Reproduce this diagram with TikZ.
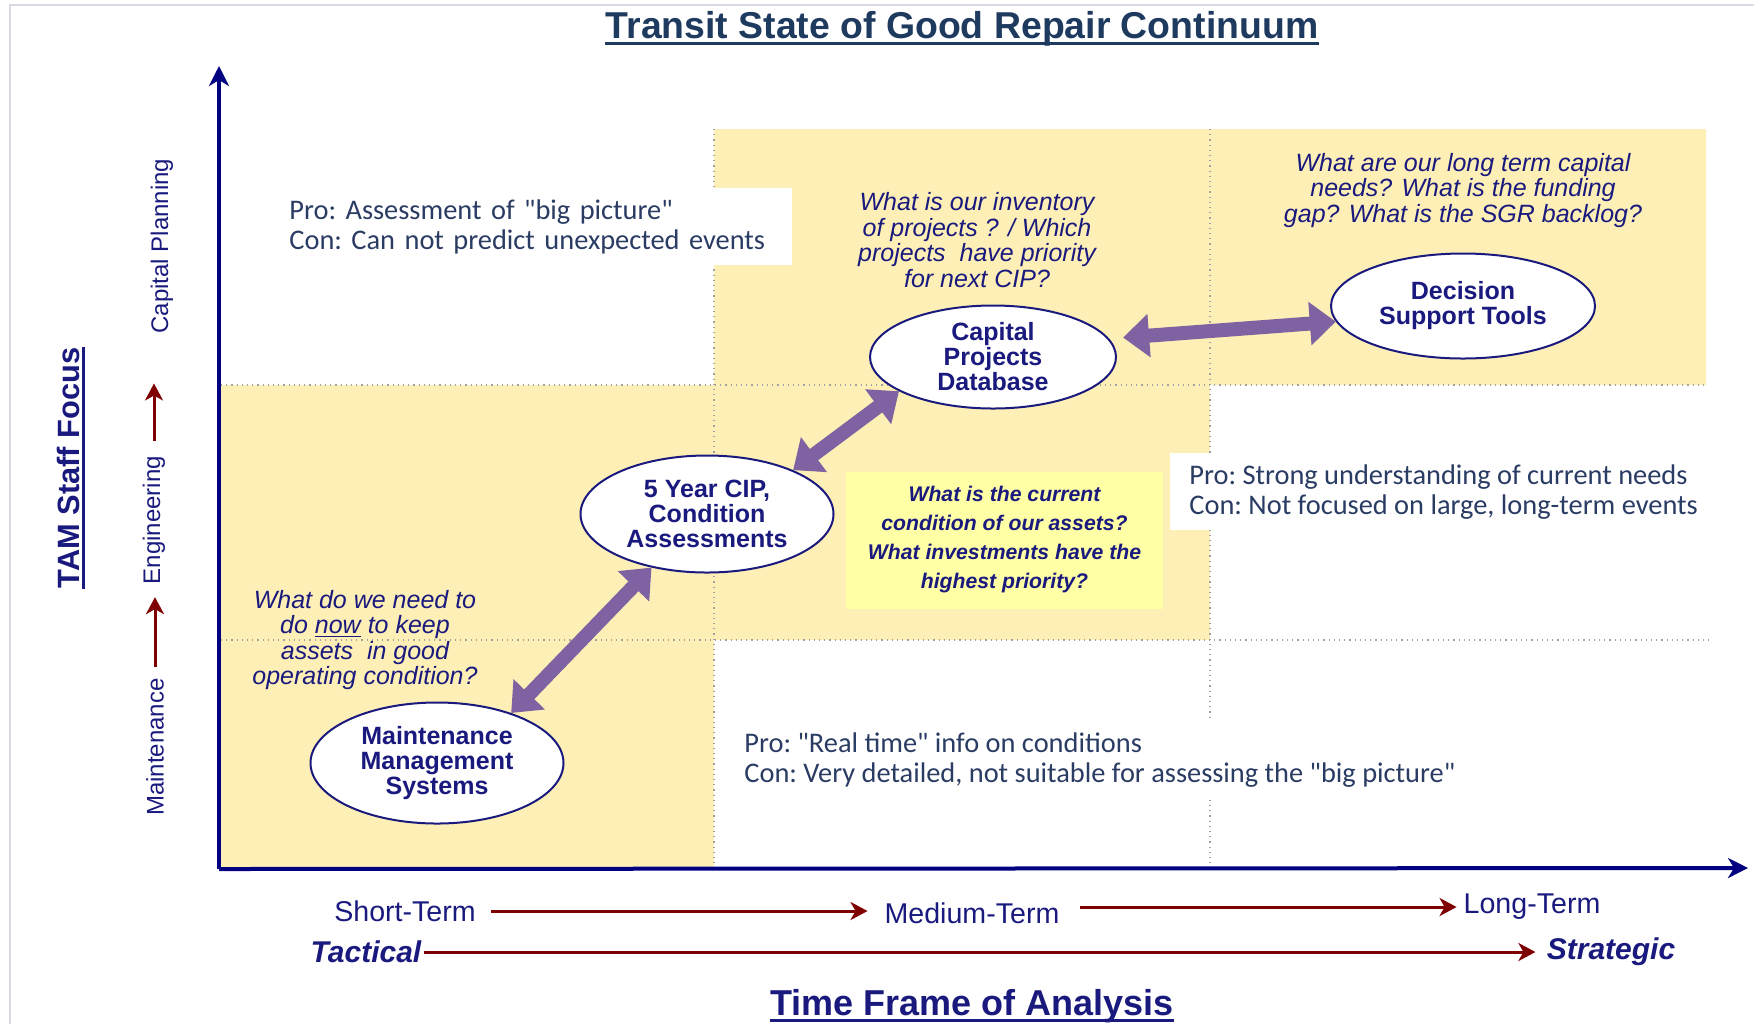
\documentclass[tikz,border=0pt]{standalone}
\usepackage{fontspec}
\setmainfont{Liberation Sans}
\newfontfamily\calibri{Carlito}
\usetikzlibrary{positioning,shapes.geometric,arrows.meta}
\definecolor{axisnavy}{HTML}{000080}
\definecolor{labelnavy}{HTML}{1A1A7E}
\definecolor{titleblue}{HTML}{1F3A5F}
\definecolor{proconblue}{HTML}{2A3C63}
\definecolor{paleyellow}{HTML}{FDEFB6}
\definecolor{brightyellow}{HTML}{FFFFA6}
\definecolor{linkpurple}{HTML}{7E62A2}
\definecolor{flowred}{HTML}{7F0000}
\definecolor{cellgray}{HTML}{A0A0A0}
\definecolor{framelav}{HTML}{D9D9E6}
\tikzset{
    axisline/.style={draw=axisnavy, line width=2pt, -{Stealth[length=10pt,width=10pt,inset=3pt]}},
    flow/.style={draw=flowred, line width=1.5pt, -{Stealth[length=8.5pt,width=9pt,inset=2.5pt]}}
}

\begin{document}
\begin{tikzpicture}[x=0.5pt, y=-0.5pt,
    bubble/.style={ellipse, draw=labelnavy, line width=1pt, fill=white, inner sep=0pt, align=center, text=labelnavy, font=\bfseries\fontsize{12.5}{12.5}\selectfont},
    question/.style={align=center, text=labelnavy, font=\itshape\fontsize{12.5}{12.8}\selectfont},
    procon/.style={anchor=north west, fill=white, align=left, text=proconblue, inner xsep=9.5pt, inner ysep=5.5pt, font=\calibri\fontsize{14.2}{15}\selectfont\frenchspacing},
    focus/.style={rotate=90, text=labelnavy, font=\fontsize{12}{14}\selectfont},
    term/.style={text=labelnavy, font=\fontsize{14.3}{16}\selectfont},
    heading/.style={anchor=base, inner sep=0pt, text=labelnavy, font=\bfseries\fontsize{18}{20}\selectfont},
    link/.style={draw=linkpurple, line width=7pt, {Triangle[length=13pt,width=21pt]}-{Triangle[length=13pt,width=21pt]}},
    cellline/.style={draw=cellgray, line width=0.6pt, dotted}]

\useasboundingbox (0,0) rectangle (1754,1024);
\draw [framelav, line width=1pt] (1754,5) -- (10,5) -- (10,1024);

% Yellow zones and grid
\fill [paleyellow] (221,385) rectangle (714,868);
\fill [paleyellow] (714,129) rectangle (1210,640);
\fill [paleyellow] (1210,129) rectangle (1706,385);
\draw [cellline] (714,129) -- (714,866);
\draw [cellline] (1210,129) -- (1210,866);
\draw [cellline] (221,385) -- (1706,385);
\draw [cellline] (221,640) -- (1710,640);

\node [heading, text=titleblue, font=\bfseries\fontsize{18.7}{20}\selectfont] (title) at (962,38) {Transit State of Good Repair Continuum};
\draw [titleblue, line width=1.5pt] ([yshift=-2.5pt]title.base west) -- ([yshift=-2.5pt]title.base east);

% Axes
\coordinate (origin) at (219,869);
\coordinate (ytop) at (219,66);
\coordinate (xend) at (1748,868);
\draw [axisline] (origin) -- (ytop);
\draw [axisline] (origin) -- (xend);

% Staff focus
\node [heading, rotate=90, font=\bfseries\fontsize{15.4}{17}\selectfont] (staff) at (79,468) {TAM Staff Focus};
\draw [labelnavy, line width=1.5pt] ([xshift=2pt]staff.base west) -- ([xshift=2pt]staff.base east);
\node [focus] (maint) at (155,747) {Maintenance};
\node [focus] (eng) at (154,520) {Engineering};
\node [focus] (plan) at (162,246) {Capital Planning};
\draw [flow, shorten <=2pt, shorten >=3pt] (maint.east) -- (maint.east |- eng.west);
\draw [flow, shorten <=4pt, shorten >=21.5pt] (eng.east) -- (eng.east |- plan.west);

% Pro / con notes
\node [procon, text width=242pt] (proplan) at (270,188) {Pro: Assessment of "big picture"\\Con: Can not predict unexpected events};
\node [procon] (proeng) at (1170,453) {Pro: Strong understanding of current needs\\Con: Not focused on large, long-term events};
\node [procon] (promaint) at (725,721) {Pro: "Real time" info on conditions\\Con: Very detailed, not suitable for assessing the "big picture"};

% Tools
\node [bubble, minimum width=126.5pt, minimum height=60.5pt] (mms) at (437,763) {Maintenance\\Management\\Systems};
\node [bubble, minimum width=126.5pt, minimum height=58.5pt] (cip) at (707,514) {5 Year CIP,\\Condition\\Assessments};
\node [bubble, minimum width=123pt, minimum height=51.5pt] (cpd) at (993,357) {Capital\\Projects\\Database};
\node [bubble, minimum width=132pt, minimum height=52.5pt] (dst) at (1463,306) {Decision\\Support Tools};

\draw [link] (mms.34) -- (cip.224);
\draw [link] (cip.27) -- (cpd.200);
\draw [link, shorten <=7pt] (cpd.9) -- (dst.187);

% Questions
\node [question] (askshort) at (365,640) {What do we need to\\do \underline{now} to keep\\assets\ \ in good\\operating condition?};
\node [question, above=5pt of cpd, xshift=-8pt] (askmid) {What is our inventory\\of projects ? / Which\\projects\ \ have priority\\for next CIP?};
\node [question, above=9pt of dst] (asklong) {What are our long term capital\\needs? What is the funding\\gap? What is the SGR backlog?};
\node [fill=brightyellow, minimum width=158.5pt, minimum height=68.5pt, align=center, text=labelnavy, font=\bfseries\itshape\fontsize{10.6}{14.5}\selectfont] (askcip) at (1004.5,540) {What is the current\\condition of our assets?\\What investments have the\\highest priority?};

% Time frame
\node [term] (short) at (405,911) {Short-Term};
\node [term] (medium) at (972,913) {Medium-Term};
\node [term] (long) at (1532,907) {Long-Term};
\draw [flow, shorten <=4pt, shorten >=5pt] (short.east) -- (short.east -| medium.west);
\draw [flow, shorten <=7pt] (medium.east |- long.west) -- (long.west);
\node [text=labelnavy, inner sep=1pt, font=\bfseries\itshape\fontsize{15}{17}\selectfont] (tactical) at (366,952) {Tactical};
\node [text=labelnavy, inner sep=1pt, font=\bfseries\itshape\fontsize{15}{17}\selectfont] (strategic) at (1611,952) {Strategic};
\draw [flow, shorten >=4.5pt] (tactical) -- (strategic);
\node [heading] (timeframe) at (972,1015) {Time Frame of Analysis};
\draw [labelnavy, line width=1.5pt] ([yshift=-2.5pt]timeframe.base west) -- ([yshift=-2.5pt]timeframe.base east);

\end{tikzpicture}
\end{document}
